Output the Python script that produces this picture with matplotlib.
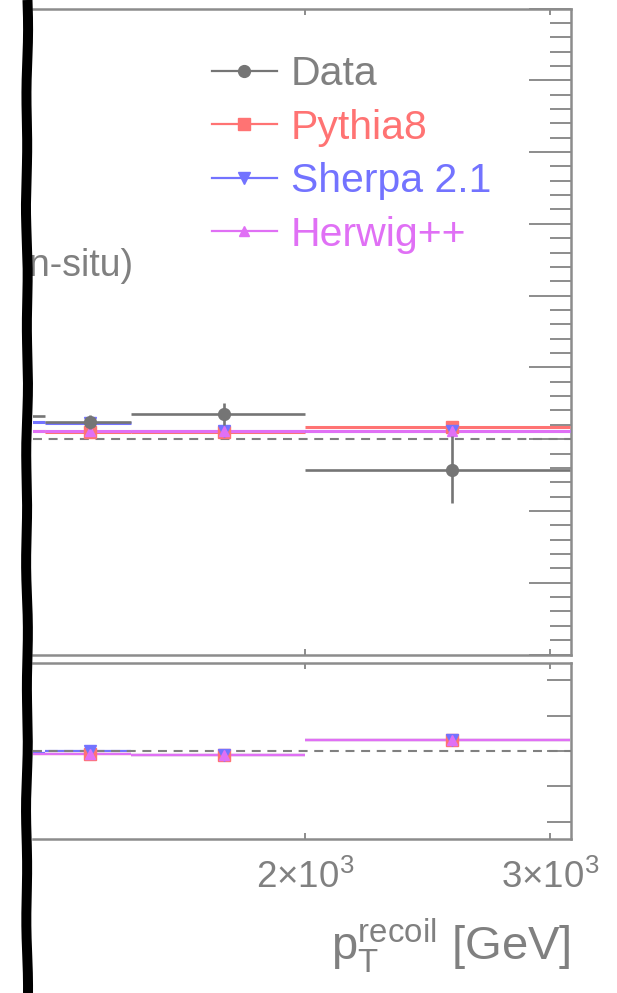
import numpy as np
import matplotlib
matplotlib.use("Agg")
import matplotlib.pyplot as plt
from matplotlib.lines import Line2D
from matplotlib.patches import Rectangle
from matplotlib.ticker import FixedLocator, FixedFormatter, MultipleLocator, NullLocator

plt.rcParams["font.family"] = ["Liberation Sans", "DejaVu Sans"]
plt.rcParams["mathtext.fontset"] = "custom"
plt.rcParams["mathtext.rm"] = "Liberation Sans"
plt.rcParams["mathtext.it"] = "Liberation Sans:italic"
plt.rcParams["mathtext.bf"] = "Liberation Sans:bold"

# pT(recoil) binning [GeV]
bin_lo = [1100, 1300, 1500, 2000]
bin_hi = [1300, 1500, 2000, 3100]
bin_center = [1200, 1400, 1750, 2550]

# multijet balance, main panel
data_val = [1.0065, 1.0048, 1.0070, 0.9915]
data_err = [0.0020, 0.0020, 0.0030, 0.0093]
pythia_val = [1.0022, 1.0020, 1.0020, 1.0033]
sherpa_val = [1.0047, 1.0045, 1.0022, 1.0024]
herwig_val = [1.0022, 1.0022, 1.0022, 1.0024]

# ratio panel
pythia_ratio = [0.9985, 0.9985, 0.9977, 1.0062]
sherpa_ratio = [0.9990, 1.0002, 0.9977, 1.0062]
herwig_ratio = [0.9985, 0.9983, 0.9977, 1.0062]

x_ticks = [2000, 3000]
x_tick_labels = [r"$2{\times}10^{3}$", r"$3{\times}10^{3}$"]
legend_labels = ["Data", "Pythia8", "Sherpa 2.1", "Herwig++"]

GRAY_TEXT = "#808080"
GRAY_FRAME = "#8c8c8c"
DATA_C = "#757575"
PYTHIA_C = "#ff7373"
SHERPA_C = "#7373ff"
HERWIG_C = "#e070f5"

W, H = 617, 993
fig = plt.figure(figsize=(W / 100, H / 100), dpi=100)


def px_axes(left, top, right, bottom):
    return fig.add_axes([left / W, 1 - bottom / H, (right - left) / W, (bottom - top) / H])


ax = px_axes(33, 8.5, 570.5, 654.5)
rax = px_axes(33, 662.7, 570.5, 839.3)

for a in (ax, rax):
    a.set_xscale("log")
    a.set_xlim(1275, 3103)
    a.xaxis.set_major_locator(FixedLocator(x_ticks))
    a.xaxis.set_minor_locator(NullLocator())
    a.spines["left"].set_visible(False)
    for s in ("top", "right", "bottom"):
        a.spines[s].set_color(GRAY_FRAME)
        a.spines[s].set_linewidth(1.8)
    a.tick_params(axis="x", which="both", top=True, bottom=True, direction="in",
                  length=4.5, width=1.4, color=GRAY_FRAME, labelbottom=False)
    a.axhline(1.0, color=GRAY_TEXT, lw=1.5, ls=(0, (4.3, 3.2)), zorder=4)

# main panel axes
ax.set_ylim(0.94, 1.12)
ax.yaxis.set_major_locator(MultipleLocator(0.02))
ax.yaxis.set_minor_locator(MultipleLocator(0.004))
ax.tick_params(axis="y", which="both", left=False, right=True, labelleft=False,
               labelright=False, direction="in", color=GRAY_FRAME, width=1.4)
ax.tick_params(axis="y", which="major", length=30)
ax.tick_params(axis="y", which="minor", length=15)

# ratio panel axes
rax.set_ylim(0.95, 1.05)
rax.yaxis.set_major_locator(MultipleLocator(0.02))
rax.yaxis.set_minor_locator(NullLocator())
rax.tick_params(axis="y", which="major", left=False, right=True, labelleft=False,
                labelright=False, direction="in", color=GRAY_FRAME, width=1.4, length=17)
rax.xaxis.set_major_formatter(FixedFormatter(x_tick_labels))
rax.tick_params(axis="x", labelbottom=True, labelsize=26.5, labelcolor=GRAY_TEXT, pad=15)

centers = np.array(bin_center, dtype=float)
lo = np.array(bin_lo, dtype=float)
hi = np.array(bin_hi, dtype=float)

series = [
    (pythia_val, pythia_ratio, PYTHIA_C, "s", 9.0),
    (sherpa_val, sherpa_ratio, SHERPA_C, "v", 8.0),
    (herwig_val, herwig_ratio, HERWIG_C, "^", 7.5),
]

for vals, ratio, color, marker, ms in series:
    ax.hlines(vals, lo, hi, colors=color, lw=2.2, zorder=5)
    ax.plot(centers, vals, ls="none", marker=marker, color=color, ms=ms, zorder=6)
    rax.hlines(ratio, lo, hi, colors=color, lw=1.6, zorder=3)
    rax.plot(centers, ratio, ls="none", marker=marker, color=color, ms=ms, zorder=5)

# data drawn above the simulations
ax.errorbar(centers, data_val, yerr=data_err, xerr=[centers - lo, hi - centers],
            fmt="o", color=DATA_C, ms=8.5, elinewidth=1.9, capsize=0, zorder=7)

# legend
handles = [Line2D([], [], color=DATA_C, marker="o", ms=8.5, lw=1.6)]
for _, _, color, marker, ms in series:
    handles.append(Line2D([], [], color=color, marker=marker, ms=ms, lw=1.6))
leg = ax.legend(handles, legend_labels, loc="upper left",
                bbox_to_anchor=(212 / W, 1 - 55 / H), bbox_transform=fig.transFigure,
                frameon=False, fontsize=29.5, handlelength=1.58, handletextpad=0.34,
                labelspacing=0.38, borderpad=0, borderaxespad=0)
for txt, c in zip(leg.get_texts(), [GRAY_TEXT, PYTHIA_C, SHERPA_C, HERWIG_C]):
    txt.set_color(c)

# jet selection label
fig.text(134 / W, 1 - 276 / H, "(in-situ)",
         ha="right", va="baseline", fontsize=27, color=GRAY_TEXT)

# x-axis title
fig.text(571 / W, 1 - 960 / H, r"p$_{\mathrm{T}}^{\mathrm{recoil}}$ [GeV]",
         ha="right", va="baseline", fontsize=34, color=GRAY_TEXT)

# torn left edge of the sheet
fig.add_artist(Rectangle((0, 0), 24 / W, 1, transform=fig.transFigure,
                         facecolor="white", edgecolor="none", zorder=10))
ys = np.linspace(0, H, 400)
xs = 27 + 0.6 * np.sin(ys / 19.0) + 0.5 * np.sin(ys / 53.0 + 1.3)
fig.add_artist(Line2D(xs / W, 1 - ys / H, transform=fig.transFigure, color="black",
                      lw=7.2, solid_capstyle="butt", zorder=11))

fig.savefig("out.png", dpi=100)
